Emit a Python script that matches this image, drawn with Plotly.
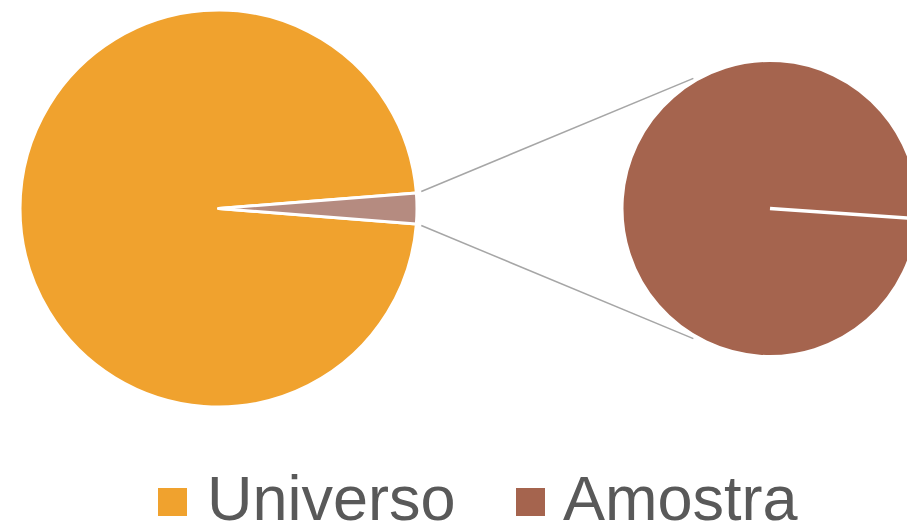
import plotly.graph_objects as go
import math

# ---- data ----
labels = ["Universo", "Amostra"]
main_values = [97.5, 2.5]          # share of the universe (%)
detail_values = [2.5]              # second pie shows only the sample
detail_labels = ["Amostra"]
main_colors = ["#F0A22E", "#B58B80"]
detail_colors = ["#A5644E"]
legend_colors = ["#F0A22E", "#A5644E"]

# ---- geometry (pixels) ----
W, H = 918, 527
C1 = (218.5, 208.5); R1 = 198.5
C2 = (770.0, 208.5); R2 = 148.0
DETAIL_ROT = 94

def px(x):
    return x / W

def py(y):
    return 1 - y / H

def dom(c, r):
    return dict(x=[px(c[0] - r), px(c[0] + r)], y=[py(c[1] + r), py(c[1] - r)])

frac = main_values[1] / sum(main_values)
half = frac * 180.0

fig = go.Figure()
fig.add_trace(go.Pie(
    labels=labels, values=main_values, sort=False, direction="clockwise",
    rotation=90 + half, marker=dict(colors=main_colors, line=dict(color="white", width=3)),
    textinfo="none", domain=dom(C1, R1), showlegend=False,
))
fig.add_trace(go.Pie(
    labels=detail_labels, values=detail_values, sort=False, direction="clockwise",
    rotation=DETAIL_ROT, marker=dict(colors=detail_colors, line=dict(color="white", width=3)),
    textinfo="none", domain=dom(C2, R2), showlegend=False,
))

shapes = []
# start/end edge of the single slice in the detail pie
ar = math.radians(DETAIL_ROT)
shapes.append(dict(type="line", xref="paper", yref="paper",
                   x0=px(C2[0]), y0=py(C2[1]),
                   x1=px(C2[0] + (R2 + 2) * math.sin(ar)), y1=py(C2[1] - (R2 + 2) * math.cos(ar)),
                   line=dict(color="white", width=3.5)))

# connector lines from the split slice to the detail pie
for sgn, ang2 in ((1, 120.5), (-1, -120.5)):
    a1 = math.radians(sgn * (half + 0.3))
    x0 = C1[0] + (R1 + 5) * math.cos(a1)
    y0 = C1[1] - (R1 + 5) * math.sin(a1)
    a2 = math.radians(ang2)
    x1 = C2[0] + (R2 + 3) * math.cos(a2)
    y1 = C2[1] - (R2 + 3) * math.sin(a2)
    shapes.append(dict(type="line", xref="paper", yref="paper",
                       x0=px(x0), y0=py(y0), x1=px(x1), y1=py(y1),
                       line=dict(color="#A6A6A6", width=1.5), layer="below"))

# legend (squares + text)
legend_items = [("Universo", legend_colors[0], 158, 205), ("Amostra", legend_colors[1], 516, 561)]
annotations = []
for name, col, sx, tx in legend_items:
    shapes.append(dict(type="rect", xref="paper", yref="paper",
                       x0=px(sx), x1=px(sx + 29), y0=py(516), y1=py(488),
                       fillcolor=col, line=dict(width=0)))
    annotations.append(dict(text=name, xref="paper", yref="paper", x=px(tx), y=py(498),
                            xanchor="left", yanchor="middle", showarrow=False,
                            font=dict(family="Liberation Sans, Arial, sans-serif", size=63, color="#595959")))

fig.update_layout(
    width=W, height=H, margin=dict(l=0, r=0, t=0, b=0),
    paper_bgcolor="white", plot_bgcolor="white",
    shapes=shapes, annotations=annotations,
)

fig.write_html("out.html", config={"displayModeBar": False}, post_script=(
    "document.documentElement.style.overflow='hidden';"
    "document.body.style.overflow='hidden';"
    "document.body.style.margin='0';"))
